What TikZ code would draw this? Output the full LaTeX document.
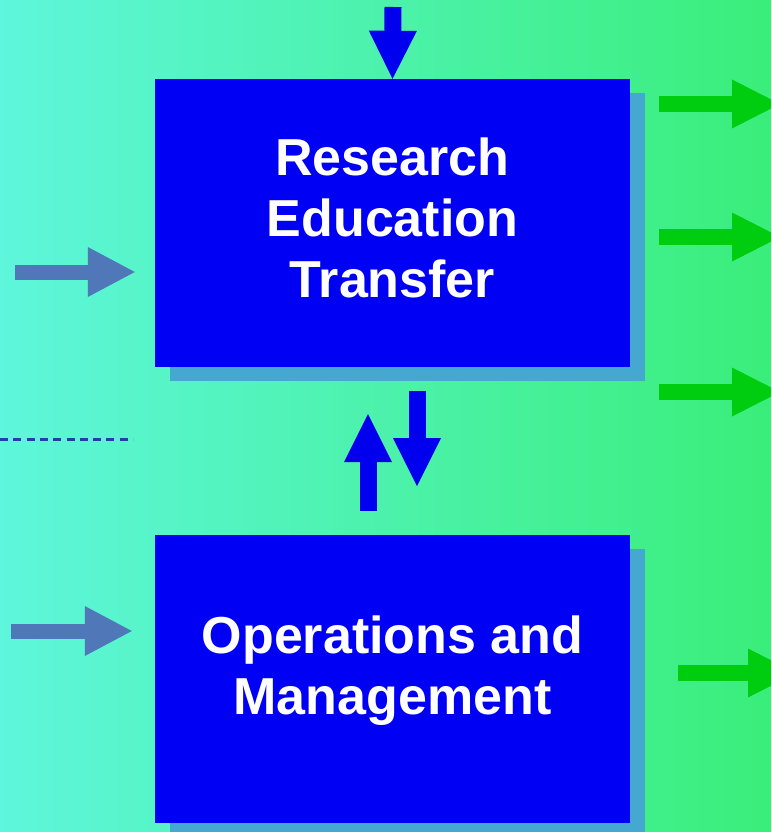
\documentclass[tikz,border=0pt]{standalone}
\usepackage{fontspec}
\setmainfont{Liberation Sans}
\usetikzlibrary{arrows.meta,positioning,shadows}
\definecolor{bgleft}{HTML}{5EF6DC}
\definecolor{bgmid}{HTML}{52F4C6}
\definecolor{bgright}{HTML}{3AEE7A}
\definecolor{boxblue}{HTML}{0000F5}
\definecolor{boxshade}{HTML}{44A8D0}
\definecolor{linkblue}{HTML}{0000EE}
\definecolor{sideblue}{HTML}{5078B9}
\definecolor{outgreen}{HTML}{00CC10}
\definecolor{dashblue}{HTML}{2040A8}
\tikzset{
  box/.style={rectangle, fill=boxblue, minimum width=475pt, minimum height=288pt, inner sep=0pt,
    align=center, text=white, font=\bfseries\fontsize{52}{61}\selectfont,
    general shadow={fill=boxshade, shadow xshift=15pt, shadow yshift=-14pt}},
  linkarr/.style={-{Triangle[width=48pt, length=48pt, line width=0pt]}, line width=17pt, draw=linkblue},
  sidearr/.style={-{Triangle[width=50pt, length=47pt, line width=0pt]}, line width=15pt, draw=sideblue},
  outarr/.style={-{Triangle[width=49pt, length=48pt, line width=0pt]}, line width=16pt, draw=outgreen},
  divider/.style={dashed, dash pattern=on 8pt off 5.3pt, line width=3pt, draw=dashblue}
}
\begin{document}
\begin{tikzpicture}[x=1pt, y=-1pt]
\clip (0,0) rectangle (771,832);
\shade[left color=bgleft, middle color=bgmid, right color=bgright] (0,0) rectangle (771,832);

\node[box, text depth=10pt] (research) at (392.5,223) {Research\\Education\\Transfer};
\node[box, text depth=28pt, below=168pt of research] (ops) {Operations and\\Management};

\coordinate (topin) at (393,7);
\coordinate (inA) at (15,272);
\coordinate (inB) at (11,631);
\coordinate (outA) at (780,104);
\coordinate (outB) at (780,237);
\coordinate (outC) at (780,392);
\coordinate (outD) at (796,673);
\coordinate (divL) at (0,439);
\coordinate (divR) at (133,439);

\draw[linkarr] (topin) -- (research.north);
\draw[linkarr] ([xshift=-24.5pt, yshift=24pt]ops.north) -- ([xshift=-24.5pt, yshift=-47pt]research.south);
\draw[linkarr] ([xshift=24.5pt, yshift=-24pt]research.south) -- ([xshift=24.5pt, yshift=49pt]ops.north);

\draw[sidearr, shorten >=20pt] (inA) -- (inA -| research.west);
\draw[sidearr, shorten >=23pt] (inB) -- (inB -| ops.west);

\draw[outarr, shorten <=29pt] (research.east |- outA) -- (outA);
\draw[outarr, shorten <=29pt] (research.east |- outB) -- (outB);
\draw[outarr, shorten <=29pt] (research.east |- outC) -- (outC);
\draw[outarr, shorten <=48pt] (ops.east |- outD) -- (outD);

\draw[divider] (divL) -- (divR);
\end{tikzpicture}
\end{document}
